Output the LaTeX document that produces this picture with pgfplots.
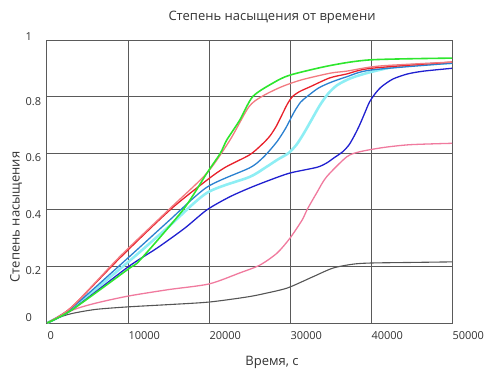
\documentclass[border=0pt]{standalone}
\usepackage{fontspec}
\setmainfont{Open Sans}
\usepackage{pgfplots}
\pgfplotsset{compat=1.18}
\usepackage{pgfplotstable}

\definecolor{gridgray}{HTML}{5A5A5A}
\definecolor{cgreen}{HTML}{2EE62E}
\definecolor{cred}{HTML}{E8202A}
\definecolor{csalmon}{HTML}{F27A80}
\definecolor{cmblue}{HTML}{2A80D0}
\definecolor{cdblue}{HTML}{2020D0}
\definecolor{ccyan}{HTML}{8EEEF4}
\definecolor{cpink}{HTML}{F07A9E}
\definecolor{cgray}{HTML}{555555}

% t (s)   saturation degree
\pgfplotstableread{
t v
0 0
1000 0.015
3000 0.033
6000 0.048
10000 0.057
15000 0.065
20000 0.074
24700 0.092
27000 0.105
29700 0.124
32800 0.163
35300 0.194
37800 0.208
40000 0.212
45000 0.214
50000 0.216
}\sgray
\pgfplotstableread{
t v
0 0
3200 0.046
6000 0.070
10000 0.095
15000 0.118
20000 0.138
23800 0.177
26300 0.205
28400 0.247
30000 0.300
31500 0.364
32100 0.400
33300 0.460
34500 0.516
37000 0.587
38600 0.605
41500 0.620
44800 0.630
50000 0.635
}\spink
\pgfplotstableread{
t v
0 0
3000 0.045
10000 0.198
13600 0.265
17000 0.335
19750 0.400
22500 0.445
25000 0.477
27500 0.505
30000 0.530
33300 0.550
34500 0.565
35500 0.585
36500 0.605
37300 0.630
38000 0.665
38600 0.700
39200 0.740
39800 0.780
40500 0.810
41300 0.835
42700 0.862
44500 0.880
46500 0.890
50000 0.900
}\sdblue
\pgfplotstableread{
t v
0 0
3000 0.052
10000 0.230
15000 0.360
19750 0.480
25000 0.548
26500 0.580
27500 0.610
28500 0.645
29500 0.690
30500 0.745
31300 0.780
32100 0.800
33500 0.830
35000 0.850
37000 0.870
40000 0.894
50000 0.918
}\smblue
\pgfplotstableread{
t v
0 0
3000 0.055
9000 0.230
15200 0.400
19750 0.505
22000 0.550
25000 0.594
26500 0.630
27500 0.660
28300 0.695
29000 0.735
29700 0.775
30300 0.800
31200 0.818
32500 0.835
34900 0.866
37000 0.880
40000 0.900
50000 0.922
}\sred
\pgfplotstableread{
t v
0 0
3000 0.050
10000 0.215
15000 0.340
19750 0.460
25000 0.516
27000 0.550
28500 0.578
29800 0.600
30800 0.630
31700 0.670
32700 0.720
33700 0.770
34700 0.810
35800 0.840
37500 0.865
40000 0.887
43600 0.908
50000 0.919
}\scyan
\pgfplotstableread{
t v
0 0
3000 0.045
10000 0.190
11500 0.223
16800 0.400
19750 0.530
21400 0.600
22200 0.647
23800 0.717
25400 0.800
27900 0.848
30000 0.876
35000 0.910
40000 0.930
50000 0.936
}\sgreen
\pgfplotstableread{
t v
0 0
3000 0.055
9000 0.235
15200 0.405
19750 0.530
22600 0.647
24900 0.763
26500 0.800
28900 0.834
31400 0.859
35000 0.883
37000 0.890
41000 0.908
50000 0.922
}\ssalmon

\begin{document}
\begin{tikzpicture}
\begin{axis}[
  at={(47pt,45pt)}, anchor=south west,
  width=405pt, height=283pt, scale only axis,
  xmin=0, xmax=50000, ymin=0, ymax=1,
  xtick={0,10000,...,50000}, ytick={0,0.2,...,1},
  xticklabels={0,10000,20000,30000,40000,50000},
  yticklabels={
    \raisebox{1.5pt}[0pt][0pt]{0},
    \raisebox{-8.5pt}[0pt][0pt]{0.2},
    \raisebox{-8.5pt}[0pt][0pt]{0.4},
    \raisebox{-8.5pt}[0pt][0pt]{0.6},
    \raisebox{-8.5pt}[0pt][0pt]{0.8},
    \raisebox{-0.5pt}[0pt][0pt]{1}},
  scaled x ticks=false,
  major tick length=0pt,
  tick label style={font=\fontsize{11}{13}\selectfont, text=black!80},
  xticklabel style={anchor=north west, xshift=-3pt, yshift=-5pt},
  yticklabel style={anchor=west, xshift=-25pt},
  grid=major,
  major grid style={gridgray, line width=1pt},
  axis line style={gridgray, line width=1pt},
  every axis title shift=0pt,
  title={Степень насыщения от времени},
  title style={at={(axis description cs:0.5556,1.081)}, anchor=center, font=\fontsize{13}{15}\selectfont, text=black!80},
  xlabel={Время, с},
  xlabel style={at={(axis description cs:0.5556,-0.138)}, anchor=center, font=\fontsize{13}{15}\selectfont, text=black!80},
  ylabel={Степень насыщения},
  ylabel style={at={(axis description cs:-0.0765,0.3746)}, anchor=center, font=\fontsize{13}{15}\selectfont, text=black!80},
  every axis plot/.append style={smooth, tension=0.45, line width=1.3pt},
]
\addplot[cgray, line width=1.1pt] table[x=t,y=v] {\sgray};
\addplot[cpink] table[x=t,y=v] {\spink};
\addplot[ccyan, line width=2.6pt] table[x=t,y=v] {\scyan};
\addplot[cmblue] table[x=t,y=v] {\smblue};
\addplot[cdblue] table[x=t,y=v] {\sdblue};
\addplot[cred] table[x=t,y=v] {\sred};
\addplot[csalmon] table[x=t,y=v] {\ssalmon};
\addplot[cgreen, line width=1.6pt] table[x=t,y=v] {\sgreen};
\end{axis}
\pgfresetboundingbox
\path[use as bounding box] (0,0) rectangle (487pt,368pt);
\end{tikzpicture}
\end{document}
